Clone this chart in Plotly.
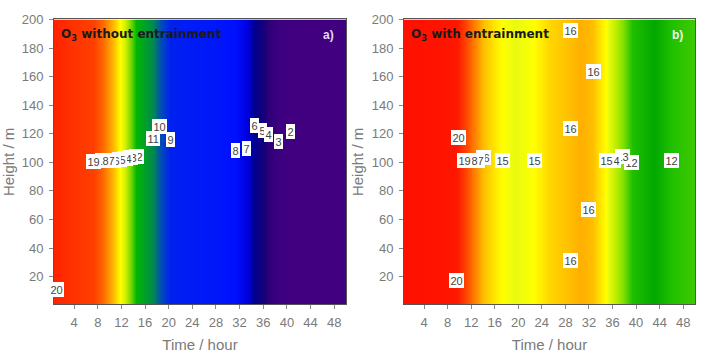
import plotly.graph_objects as go

# ---------------- data ----------------
# panel a: O3 without entrainment (value vs time, uniform with height)
time_a = [0.0, 1.1, 4.0, 7.3, 8.9, 9.8, 10.7, 11.7, 12.6, 13.6, 14.5, 17.4, 18.5, 20.3,
          24.0, 28.0, 31.3, 33.2, 34.5, 35.9, 36.9, 38.5, 40.6, 44.0, 51.0]
o3_a = [20.3, 20.0, 19.5, 19.0, 18.0, 17.0, 16.0, 15.0, 14.0, 13.0, 12.0, 11.0, 10.0, 9.0,
        8.7, 8.4, 8.0, 7.0, 6.0, 5.0, 4.0, 3.0, 2.0, 1.7, 1.5]

# panel b: O3 with entrainment
time_b = [0.0, 4.0, 8.0, 9.6, 10.9, 12.05, 13.05, 14.06, 17.3, 19.5, 22.7, 25.0, 28.9, 30.5,
          32.5, 34.9, 36.2, 37.7, 39.3, 43.0, 46.0, 51.0]
o3_b = [20.5, 20.4, 20.2, 20.0, 19.0, 18.0, 17.0, 16.0, 15.0, 14.7, 15.0, 15.6, 16.0, 16.3,
        16.0, 15.0, 14.0, 13.0, 12.0, 11.5, 12.0, 12.4]

heights = [0, 201]

# colour stops (value -> colour)
stops_a = [1.5, 2, 3, 4, 5, 6, 7, 8, 9, 10, 11, 12, 13, 14, 15, 16, 17, 18, 19, 20, 20.3]
colors_a = ["#400080", "#400080", "#3c0080", "#300078", "#14007a", "#000090", "#0000e0",
            "#0010ff", "#0020f0", "#0050b0", "#008850", "#00b800", "#70d400", "#d0f000",
            "#ffff00", "#ffc000", "#ff9000", "#ff6a00", "#ff4000", "#ff2500", "#ff2000"]

stops_b = [11.5, 12, 13, 14, 14.7, 15, 15.5, 16, 17, 18, 19, 20, 20.5]
colors_b = ["#00a800", "#20c000", "#80e000", "#c8f000", "#e8fa10", "#ffff00", "#ffe000",
            "#ffbc00", "#ff9000", "#ff6a00", "#ff4000", "#ff1800", "#ff1000"]

# contour labels: text, time, height
lab_a_text = ["20", "12", "13", "14", "15", "16", "17", "18", "19",
              "11", "10", "9", "8", "7", "6", "5", "4", "3", "2"]
lab_a_time = [1.05, 14.51, 13.57, 12.62, 11.68, 10.74, 9.80, 8.86, 7.26,
              17.4, 18.5, 20.3, 31.3, 33.2, 34.5, 35.9, 36.9, 38.5, 40.6]
lab_a_h = [11.3, 104, 103.5, 103, 102, 101.5, 101, 101, 100.5,
           117, 125, 116, 108, 109.5, 125.5, 122, 119.5, 114.5, 121.5]

lab_b_text = ["16", "16", "16", "16", "16", "20", "20",
              "15", "16", "17", "18", "19", "15",
              "12", "13", "14", "15", "12"]
lab_b_time = [28.9, 32.8, 28.9, 32.0, 28.9, 9.8, 9.5,
              17.3, 14.06, 13.05, 12.05, 10.9, 22.7,
              39.3, 37.7, 36.2, 34.9, 46.0]
lab_b_h = [192.4, 163.8, 123.4, 67.3, 31.0, 117.5, 17.3,
           101, 103.5, 101, 101, 101, 101,
           100, 104, 101, 101, 101]

xticks = [4, 8, 12, 16, 20, 24, 28, 32, 36, 40, 44, 48]
yticks = [20, 40, 60, 80, 100, 120, 140, 160, 180, 200]

FONT = "Liberation Sans, Arial, sans-serif"
TFONT = "DejaVu Sans, Verdana, sans-serif"


def make_scale(stops, colors):
    lo, hi = stops[0], stops[-1]
    return [[(s - lo) / (hi - lo), c] for s, c in zip(stops, colors)]


fig = go.Figure()
fig.add_trace(go.Heatmap(x=time_a, y=heights, z=[o3_a, o3_a], zsmooth="best",
                         colorscale=make_scale(stops_a, colors_a), zmin=stops_a[0],
                         zmax=stops_a[-1], showscale=False, xaxis="x", yaxis="y",
                         hoverinfo="skip"))
fig.add_trace(go.Heatmap(x=time_b, y=heights, z=[o3_b, o3_b], zsmooth="best",
                         colorscale=make_scale(stops_b, colors_b), zmin=stops_b[0],
                         zmax=stops_b[-1], showscale=False, xaxis="x2", yaxis="y2",
                         hoverinfo="skip"))

W, H = 701, 360
top, bot = 12.7, 303.3
dom_y = [1 - bot / H, 1 - top / H]
dom_xa = [54 / W, 346 / W]
dom_xb = [404 / W, 695 / W]

axis_common = dict(
    showgrid=False, zeroline=False, showline=True, linecolor="#555", linewidth=1,
    mirror=True, ticks="outside", ticklen=4, tickcolor="#888",
    tickfont=dict(family=FONT, size=13, color="#7a7a7a"),
)
xa = dict(axis_common, range=[0.6, 50], tickvals=xticks,
          title=dict(text="Time / hour", font=dict(family=FONT, size=15, color="#7a7a7a"),
                     standoff=10), ticklabelstandoff=2)
ya = dict(axis_common, range=[0.6, 200], tickvals=yticks,
          title=dict(text="Height / m", font=dict(family=FONT, size=15, color="#7a7a7a"),
                     standoff=4), ticklabelstandoff=3)

fig.update_layout(
    width=W, height=H, margin=dict(l=0, r=0, t=0, b=0),
    paper_bgcolor="white", plot_bgcolor="white", showlegend=False,
    xaxis=dict(xa, domain=dom_xa, anchor="y"),
    yaxis=dict(ya, domain=dom_y, anchor="x"),
    xaxis2=dict(xa, domain=dom_xb, anchor="y2"),
    yaxis2=dict(ya, domain=dom_y, anchor="x2"),
)

ann = []
for txts, ts, hs, xr, yr in [(lab_a_text, lab_a_time, lab_a_h, "x", "y"),
                             (lab_b_text, lab_b_time, lab_b_h, "x2", "y2")]:
    for t, x, y in zip(txts, ts, hs):
        ann.append(dict(text=t, x=x, y=y, xref=xr, yref=yr, showarrow=False,
                        font=dict(family=FONT, size=11, color="#444"),
                        bgcolor="white", borderpad=1.5, borderwidth=0))

for title, tag, xr, yr, tagcol in [("<b>O<sub>3</sub> without entrainment</b>", "<b>a)</b>", "x", "y", "#e4dcf0"),
                                   ("<b>O<sub>3</sub> with entrainment</b>", "<b>b)</b>", "x2", "y2", "#f0fae8")]:
    ann.append(dict(text=title, x=0.018, y=0.947, xref=xr + " domain", yref=yr + " domain",
                    xanchor="left", yanchor="middle", showarrow=False,
                    font=dict(family=TFONT, size=12, color="#1a1a1a")))
    ann.append(dict(text=tag, x=0.965, y=0.947, xref=xr + " domain", yref=yr + " domain",
                    xanchor="right", yanchor="middle", showarrow=False,
                    font=dict(family=FONT, size=12, color=tagcol)))

fig.update_layout(annotations=ann)
fig.write_html("out.html")
